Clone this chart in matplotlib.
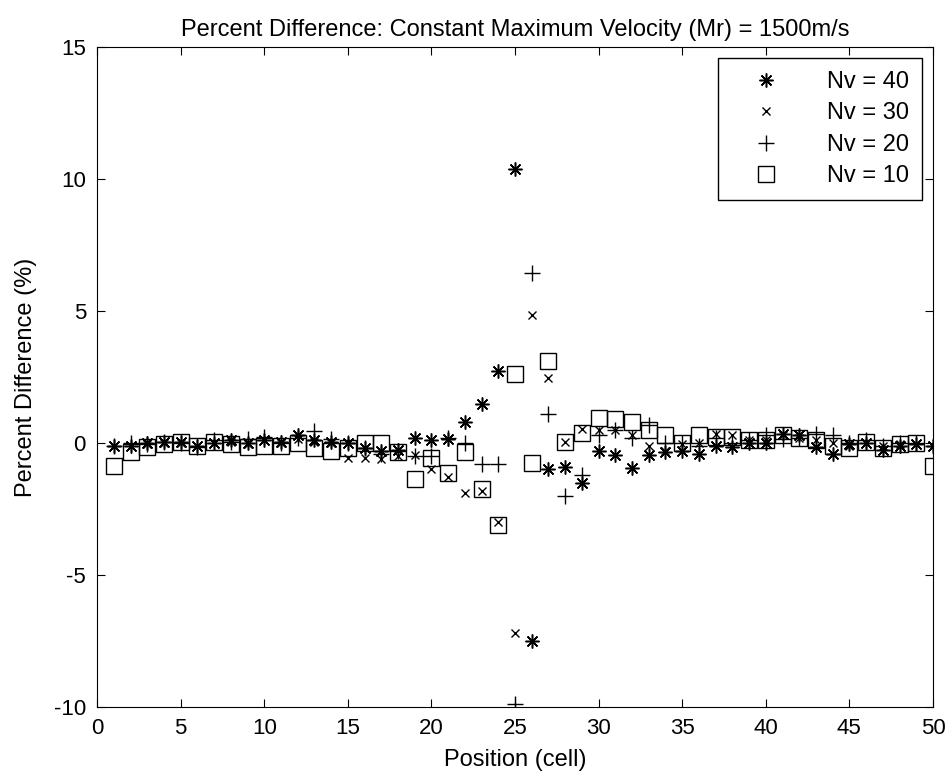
import numpy as np
import matplotlib
matplotlib.use("Agg")
import matplotlib.pyplot as plt

plt.rcParams['font.family'] = ['Liberation Sans', 'DejaVu Sans']
plt.rcParams['axes.unicode_minus'] = False

position = list(range(1, 51))

nv40 = [-0.1, -0.1, 0.0, 0.05, 0.05, -0.1, 0.0, 0.1, 0.0, 0.1,
        0.05, 0.3, 0.1, 0.05, 0.0, -0.2, -0.3, -0.25, 0.2, 0.1,
        0.15, 0.8, 1.5, 2.75, 10.4, -7.5, -1.0, -0.9, -1.5, -0.3,
        -0.45, -0.95, -0.45, -0.35, -0.3, -0.4, -0.1, -0.15, 0.0, 0.0,
        0.35, 0.3, -0.15, -0.4, -0.05, 0.0, -0.25, -0.1, -0.05, -0.1]

nv30 = [-0.1, -0.1, -0.05, 0.0, 0.0, -0.1, 0.0, 0.05, -0.05, 0.1,
        0.0, 0.15, 0.05, 0.0, -0.55, -0.55, -0.6, -0.5, -0.45, -1.0,
        -1.3, -1.9, -1.8, -3.0, -7.2, 4.85, 2.45, 0.05, 0.55, 0.5,
        0.5, 0.3, -0.1, -0.3, -0.05, 0.0, 0.35, 0.3, 0.1, 0.1,
        0.3, 0.2, 0.1, 0.0, -0.1, 0.0, -0.1, -0.05, -0.05, -0.1]

nv20 = [-0.1, 0.0, -0.05, 0.05, 0.0, -0.15, 0.1, 0.05, 0.15, 0.25,
        0.0, 0.2, 0.45, 0.15, 0.0, -0.2, -0.4, -0.3, -0.5, -0.5,
        0.2, 0.0, -0.8, -0.8, -9.9, 6.45, 1.1, -2.0, -1.2, 0.3,
        0.5, 0.2, 0.7, 0.0, 0.0, -0.1, 0.2, 0.0, 0.1, 0.3,
        0.15, 0.2, 0.35, 0.3, 0.0, 0.1, -0.1, 0.0, 0.0, -0.1]

nv10 = [-0.85, -0.35, -0.15, -0.05, 0.05, -0.1, 0.05, -0.05, -0.15, -0.1,
        -0.1, 0.0, -0.2, -0.3, -0.2, 0.0, 0.0, -0.35, -1.35, -0.55,
        -1.15, -0.35, -1.75, -3.1, 2.6, -0.75, 3.1, 0.05, 0.4, 0.95,
        0.9, 0.8, 0.5, 0.3, 0.0, 0.3, 0.25, 0.25, 0.1, 0.1,
        0.3, 0.2, 0.1, -0.1, -0.2, 0.05, -0.2, -0.05, 0.0, -0.85]

fig = plt.figure(figsize=(9.52, 7.76), dpi=100)
ax = fig.add_axes([0.102, 0.089, 0.878, 0.850])

ax.plot(position, nv40, linestyle='none', marker=(8, 2, 0), markersize=10,
        color='black', markeredgewidth=1.1, label='Nv = 40')
ax.plot(position, nv30, linestyle='none', marker='x', markersize=6,
        color='black', markeredgewidth=1.0, label='Nv = 30')
ax.plot(position, nv20, linestyle='none', marker='+', markersize=12,
        color='black', markeredgewidth=1.0, label='Nv = 20')
ax.plot(position, nv10, linestyle='none', marker='s', markersize=12,
        markerfacecolor='none', markeredgecolor='black', markeredgewidth=1.0,
        label='Nv = 10')

ax.set_xlim(0, 50)
ax.set_ylim(-10, 15)
ax.set_xticks(np.arange(0, 51, 5))
ax.set_yticks(np.arange(-10, 16, 5))
ax.tick_params(direction='in', top=True, right=True, labelsize=16,
               length=6, pad=8)

ax.set_xlabel('Position (cell)', fontsize=17, labelpad=7)
ax.set_ylabel('Percent Difference (%)', fontsize=17, labelpad=12)
ax.set_title('Percent Difference: Constant Maximum Velocity (Mr) = 1500m/s',
             fontsize=17, pad=8)

leg = ax.legend(loc='upper right', fontsize=17, fancybox=False,
                edgecolor='black', framealpha=1, borderpad=0.55,
                labelspacing=0.4, handlelength=3.0, handletextpad=1.1,
                borderaxespad=0.45)
leg.get_frame().set_linewidth(1.0)

fig.savefig('out.png', dpi=100, facecolor='white')
